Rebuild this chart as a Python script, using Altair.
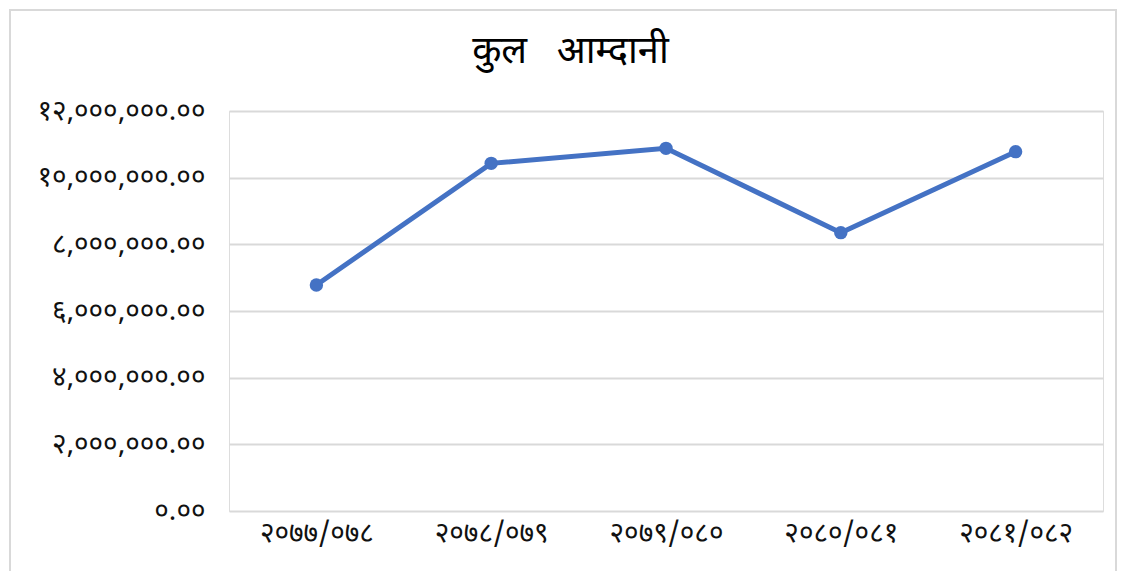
import altair as alt
import pandas as pd

years = ["२०७७/०७८", "२०७८/०७९", "२०७९/०८०", "२०८०/०८१", "२०८१/०८२"]
income = [6780000, 10430000, 10880000, 8350000, 10780000]
y_ticks = [0, 2000000, 4000000, 6000000, 8000000, 10000000, 12000000]
title_text = "कुल\u00a0\u00a0\u00a0आम्दानी"

df = pd.DataFrame({"year": years, "income": income})

dev = "०१२३४५६७८९"
expr = "format(datum.value, ',.2f')"
for i, d in enumerate(dev):
    expr = f"replace({expr}, regexp('{i}', 'g'), '{d}')"

FONT = "Noto Sans Devanagari, Lohit Devanagari, Mangal, Noto Sans, sans-serif"
BLUE = "#4472C4"

base = alt.Chart(df)

x = alt.X("year:N", sort=years, title=None,
          scale=alt.Scale(type="point", padding=0.5),
          axis=alt.Axis(labelAngle=0, labelFontSize=28, labelColor="#111111",
                        labelFont=FONT, labelFontWeight="normal", ticks=False,
                        domain=False, labelPadding=8, grid=False))
y = alt.Y("income:Q", title=None,
          scale=alt.Scale(domain=[0, 12000000], nice=False),
          axis=alt.Axis(values=y_ticks, labelExpr=expr, labelFontSize=28,
                        labelColor="#111111", labelFont=FONT, labelFontWeight="normal",
                        ticks=False, domain=False, labelPadding=24,
                        gridColor="#d9d9d9", gridWidth=2))

line = base.mark_line(color=BLUE, strokeWidth=5).encode(x=x, y=y)
pts = base.mark_circle(color=BLUE, size=180, opacity=1).encode(x=x, y=y)

one = pd.DataFrame({"a": [0]})
frame = alt.Chart(one).mark_rule(color="#d9d9d9", strokeWidth=2).encode(
    x=alt.value(-219), x2=alt.value(-219), y=alt.value(-102), y2=alt.value(460))
frame_top = alt.Chart(one).mark_rule(color="#d9d9d9", strokeWidth=2).encode(
    x=alt.value(-220), x2=alt.value(887), y=alt.value(-101), y2=alt.value(-101))
frame_right = alt.Chart(one).mark_rule(color="#d9d9d9", strokeWidth=2).encode(
    x=alt.value(887), x2=alt.value(887), y=alt.value(-102), y2=alt.value(460))

chart = alt.layer(frame, frame_top, frame_right, line, pts).properties(
    width=874, height=400,
    title=alt.TitleParams(title_text, fontSize=38, font=FONT, fontWeight="normal",
                          color="#000000", anchor="middle", frame="bounds",
                          offset=-63, dx=8),
    autosize=alt.AutoSizeParams(type="none"),
    padding={"left": 221, "top": 103, "right": 14, "bottom": 60},
).configure_view(stroke=None).configure(background="white")

chart.save("out.html", embed_options={"renderer": "svg", "actions": False})
